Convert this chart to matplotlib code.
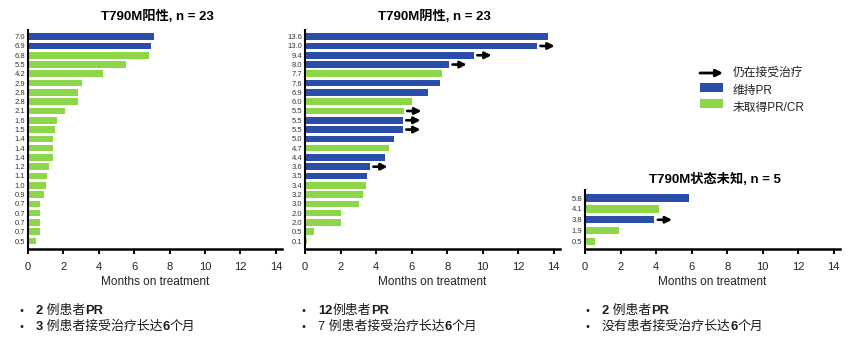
import matplotlib
matplotlib.use("Agg")
import matplotlib.pyplot as plt
import numpy as np
from matplotlib.patches import Rectangle, FancyArrowPatch

plt.rcParams['font.family'] = ['Liberation Sans', 'Noto Sans CJK SC', 'DejaVu Sans']

BLUE = '#2B4DAA'
GREEN = '#8DD64A'

# ---- data ----
pos_labels = ['7.0', '6.9', '6.8', '5.5', '4.2', '2.9', '2.8', '2.8', '2.1', '1.6', '1.5', '1.4',
              '1.4', '1.4', '1.2', '1.1', '1.0', '0.9', '0.7', '0.7', '0.7', '0.7', '0.5']
pos_values = [7.1, 6.95, 6.85, 5.55, 4.25, 3.05, 2.85, 2.85, 2.1, 1.65, 1.55, 1.4,
              1.4, 1.4, 1.2, 1.1, 1.0, 0.9, 0.7, 0.7, 0.7, 0.7, 0.45]
pos_pr = [1, 1] + [0] * 21
pos_ongoing = [0] * 23

neg_labels = ['13.6', '13.0', '9.4', '8.0', '7.7', '7.6', '6.9', '6.0', '5.5', '5.5', '5.5', '5.0',
              '4.7', '4.4', '3.6', '3.5', '3.4', '3.2', '3.0', '2.0', '2.0', '0.5', '0.1']
neg_values = [13.7, 13.05, 9.5, 8.1, 7.7, 7.6, 6.9, 6.0, 5.55, 5.5, 5.5, 5.0,
              4.7, 4.5, 3.65, 3.5, 3.45, 3.25, 3.05, 2.05, 2.0, 0.5, 0.1]
neg_pr = [1, 1, 1, 1, 0, 1, 1, 0, 0, 1, 1, 1, 0, 1, 1, 1, 0, 0, 0, 0, 0, 0, 0]
neg_ongoing = [0, 1, 1, 1, 0, 0, 0, 0, 1, 1, 1, 0, 0, 0, 1, 0, 0, 0, 0, 0, 0, 0, 0]

unk_labels = ['5.8', '4.1', '3.8', '1.9', '0.5']
unk_values = [5.85, 4.15, 3.9, 1.9, 0.55]
unk_pr = [1, 0, 1, 0, 0]
unk_ongoing = [0, 0, 1, 0, 0]

titles = ['T790M阳性, n = 23', 'T790M阴性, n = 23', 'T790M状态未知, n = 5']
xticks = [0, 2, 4, 6, 8, 10, 12, 14]
xlabel = 'Months on treatment'
legend_labels = ['仍在接受治疗', '维持PR', '未取得PR/CR']

W, H = 865, 345
fig = plt.figure(figsize=(W / 100, H / 100), dpi=100)


def fx(px):
    return px / W


def fy(py):
    return 1 - py / H


panels = [
    dict(labels=pos_labels, values=pos_values, pr=pos_pr, on=pos_ongoing,
         left=28, right=282, top=30, bottom=249, ylim=(22.86, -0.72), bh=0.72, title_y=16),
    dict(labels=neg_labels, values=neg_values, pr=neg_pr, on=neg_ongoing,
         left=305, right=560, top=30, bottom=249, ylim=(22.86, -0.72), bh=0.72, title_y=16),
    dict(labels=unk_labels, values=unk_values, pr=unk_pr, on=unk_ongoing,
         left=585, right=840, top=190, bottom=249, ylim=(4.7, -0.75), bh=0.68, title_y=179),
]

for p, title in zip(panels, titles):
    ax = fig.add_axes([fx(p['left']), fy(p['bottom']), fx(p['right'] - p['left']),
                       (p['bottom'] - p['top']) / H])
    n = len(p['values'])
    y = np.arange(n)
    colors = [BLUE if c else GREEN for c in p['pr']]
    ax.barh(y, p['values'], height=p['bh'], color=colors, edgecolor='none')
    for yi, v, on in zip(y, p['values'], p['on']):
        if on:
            ax.annotate('', xy=(v + 1.0, yi), xytext=(v + 0.2, yi),
                        arrowprops=dict(arrowstyle='-|>', lw=1.9, color='black',
                                        mutation_scale=9.5, shrinkA=0, shrinkB=0))
    ax.set_xlim(0, 14.35)
    ax.set_ylim(*p['ylim'])
    ax.set_yticks(y)
    ax.set_yticklabels(p['labels'], fontsize=5.5, color='#333333')
    ax.tick_params(axis='y', length=0, pad=2)
    ax.set_xticks(xticks)
    ax.set_xticklabels([str(t) for t in xticks], fontsize=8, color='#222222')
    ax.tick_params(axis='x', length=3.5, width=1.4, pad=6, direction='out')
    for s in ['top', 'right']:
        ax.spines[s].set_visible(False)
    ax.spines['left'].set_linewidth(1.5)
    ax.spines['bottom'].set_linewidth(1.8)
    ax.set_xlabel(xlabel, fontsize=8.5, labelpad=3, color='#222222')
    fig.text(fx((p['left'] + p['right']) / 2 + 2), fy(p['title_y']), title,
             ha='center', va='center', fontsize=9.5, fontweight='bold')

# ---- legend ----
fig.add_artist(FancyArrowPatch((fx(700), fy(73)), (fx(723), fy(73)), transform=fig.transFigure,
                               arrowstyle='-|>', lw=2.0, color='black', mutation_scale=10,
                               shrinkA=0, shrinkB=0))
fig.add_artist(Rectangle((fx(700), fy(92)), fx(23), 9 / H, transform=fig.transFigure,
                         color=BLUE, lw=0))
fig.add_artist(Rectangle((fx(700), fy(108)), fx(23), 9 / H, transform=fig.transFigure,
                         color=GREEN, lw=0))
for lab, yy in zip(legend_labels, [73, 91, 108]):
    fig.text(fx(733), fy(yy), lab, ha='left', va='center', fontsize=8.5, color='#222222')

# ---- bullet notes ----
bullets = [
    (22, 36, [[('2', 'bold'), (' 例患者', 'normal'), ('PR', 'bold')],
              [('3', 'bold'), (' 例患者接受治疗长达', 'normal'), ('6', 'bold'), ('个月', 'normal')]]),
    (304, 318, [[('12', 'bold'), ('例患者', 'normal'), ('PR', 'bold')],
                [('7 例患者接受治疗长达', 'normal'), ('6', 'bold'), ('个月', 'normal')]]),
    (588, 602, [[('2', 'bold'), (' 例患者', 'normal'), ('PR', 'bold')],
                [('没有患者接受治疗长达', 'normal'), ('6', 'bold'), ('个月', 'normal')]]),
]
renderer = fig.canvas.get_renderer()
for bx, tx, lines in bullets:
    for line, yy in zip(lines, [310.5, 326.7]):
        fig.text(fx(bx), fy(yy), '•', ha='center', va='center', fontsize=8, color='#222222')
        x = tx
        for seg, wt in line:
            t = fig.text(fx(x), fy(yy), seg, ha='left', va='center', fontsize=9.3,
                         fontweight=wt, color='#1a1a1a')
            bb = t.get_window_extent(renderer=renderer)
            x = bb.x1

fig.savefig('out.png', dpi=100)
